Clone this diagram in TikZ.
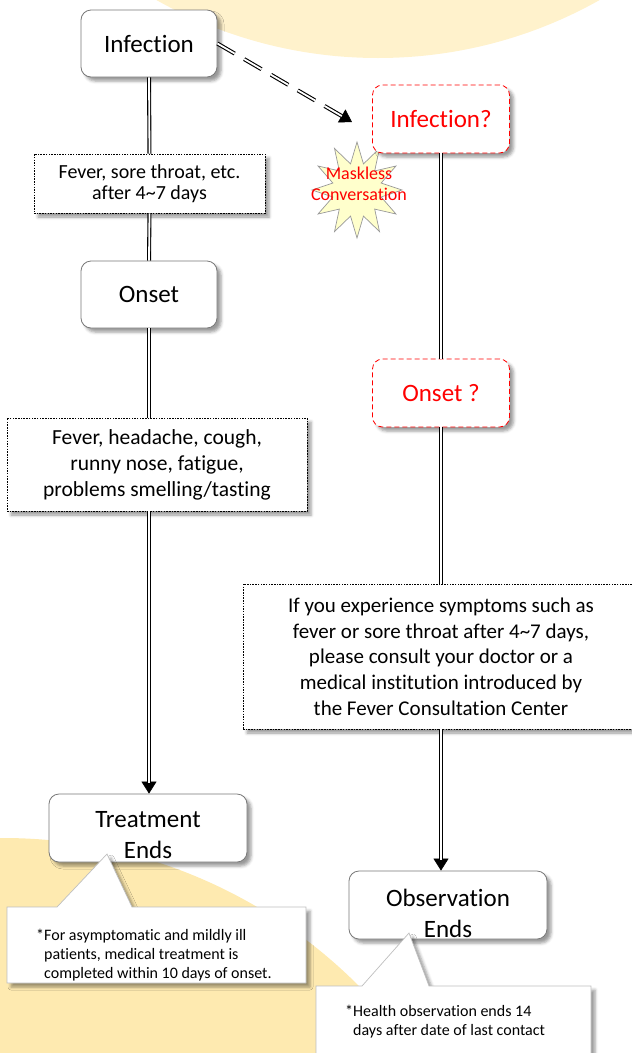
\documentclass[tikz,border=0pt]{standalone}
\usepackage{fontspec}
\setmainfont{Carlito}[Ligatures=NoCommon]
\usetikzlibrary{shadows.blur,arrows.meta,calc}
\definecolor{bgtop}{RGB}{255,242,204}
\definecolor{bgbot}{RGB}{254,234,176}
\definecolor{bord}{RGB}{120,120,120}
\definecolor{starfill}{RGB}{255,255,204}
\definecolor{qred}{RGB}{255,0,0}
\begin{document}
\begin{tikzpicture}[x=1pt,y=-1pt,
  shad/.style={blur shadow={shadow xshift=4pt,shadow yshift=-4pt,shadow blur radius=3pt,shadow opacity=40}},
  rbox/.style={draw=bord,fill=white,rounded corners=10pt,line width=0.8pt,minimum width=136pt,minimum height=67pt,inner sep=0pt,shad,font=\fontsize{25}{30}\selectfont},
  qbox/.style={rbox,draw=qred,dash pattern=on 5pt off 3pt,text=qred},
  dbox/.style={draw=black,line width=0.7pt,dash pattern=on 1.5pt off 1.2pt,fill=white,inner sep=0pt,shad,align=center},
  btxt/.style={font=\fontsize{25}{30.5}\selectfont,align=center,inner sep=0pt},
  dbl/.style={draw=black,double=white,double distance=1.8pt,line width=1.1pt},
  tiparrow/.style={-{Triangle[width=15pt,length=12pt]},line width=0.6pt,black},
  callout/.style={draw=black!25,fill=white,line width=0.7pt,shad},
  ctxt/.style={font=\fontsize{16}{19}\selectfont,align=left,inner sep=0pt,anchor=north west},
  explo/.style={draw=black!40,fill=starfill,line width=0.7pt}
]
\useasboundingbox (0,0) rectangle (632,1053);
\begin{scope}
\clip (0,0) rectangle (632,1053);
\fill[bgtop] (378,-394) circle[radius=452pt];
\fill[bgbot] (3,1340) circle[radius=502pt];
\end{scope}

% left column
\node[rbox,text depth=-2pt] (inf) at (149,43.5) {Infection};
\node[dbox,minimum width=231pt,minimum height=59pt,font=\fontsize{20}{21}\selectfont] (f1) at (149.5,183.5) {Fever, sore throat, etc.\\after 4\textasciitilde7 days};
\node[rbox,text depth=-2pt] (onset) at (149,294.5) {Onset};
\node[dbox,minimum width=300pt,minimum height=93pt,font=\fontsize{21.5}{26}\selectfont] (f2) at (157,464.5) {Fever, headache, cough,\\runny nose, fatigue,\\problems smelling/tasting};
\node[rbox,minimum width=198pt,minimum height=68pt] (treat) at (148,828) {};
\node[btxt] (treatt) at ($(treat.center)+(0,7)$) {Treatment\\Ends};

% right column
\draw[explo] plot[samples at={0,...,23},variable=\k] ({357+(mod(\k,2)==0 ? 45 : 25)*cos(\k*15+90)},{190-(mod(\k,2)==0 ? 48 : 27)*sin(\k*15+90)}) -- cycle;
\node[qbox,minimum width=137pt,minimum height=68pt,text depth=-2pt] (infq) at (441,119) {Infection?};
\node[text=qred,font=\fontsize{18}{21}\selectfont,align=center,inner sep=0pt] (mask) at (359,183.5) {Maskless\\Conversation};
\node[qbox,minimum width=137pt,minimum height=68pt] (onsetq) at (441,393) {Onset ?};
\node[dbox,minimum width=396pt,minimum height=145pt,font=\fontsize{21}{25.7}\selectfont] (adv) at (441,656.5) {If you experience symptoms such as\\fever or sore throat after 4\textasciitilde7 days,\\please consult your doctor or a\\medical institution introduced by\\the Fever Consultation Center};
\node[rbox,minimum width=198pt,minimum height=68pt] (obs) at (448,905) {};
\node[btxt] (obst) at ($(obs.center)+(0,8.5)$) {Observation\\Ends};

% connectors
\draw[dbl] (inf.south) -- (f1.north);
\draw[dbl] (f1.south) -- (onset.north);
\draw[dbl] (onset.south) -- (onset.south |- f2.north);
\draw[tiparrow,shorten <=260pt] (onset.south |- f2.south) -- (onset.south |- treat.north);
\draw[dbl,shorten >=11pt] (onset.south |- f2.south) -- (onset.south |- treat.north);
\draw[dbl] (infq.south) -- (onsetq.north);
\draw[dbl] (onsetq.south) -- (adv.north);
\draw[tiparrow,shorten <=120pt] (adv.south) -- (adv.south |- obs.north);
\draw[dbl,shorten >=11pt] (adv.south) -- (adv.south |- obs.north);
\coordinate (dtip) at (352,122);
\draw[tiparrow,shorten <=135pt] (inf.east) -- (dtip);
\draw[dbl,dash pattern=on 20pt off 11pt,shorten >=11pt] (inf.east) -- (dtip);

% callouts
\draw[callout] (7,907) -- (57,907) -- (107,854) -- (132,907) -- (306,907) -- (306,983) -- (7,983) -- cycle;
\node[ctxt] (c1) at (44,928.5) {\llap{*}For asymptomatic and mildly ill\\patients, medical treatment is\\completed within 10 days of onset.};
\draw[callout] (316,986) -- (362,986) -- (409,933) -- (429,986) -- (591,986) -- (591,1070) -- (316,1070) -- cycle;
\node[ctxt] (c2) at (353,1005) {\llap{*}Health observation ends 14\\days after date of last contact};
\end{tikzpicture}
\end{document}
